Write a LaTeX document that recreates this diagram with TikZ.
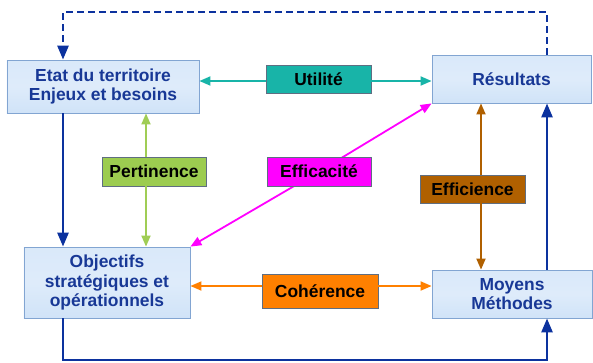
\documentclass[tikz,border=0pt]{standalone}
\usepackage{fontspec}
\setmainfont{Liberation Sans}
\usetikzlibrary{arrows.meta,calc}
\definecolor{boxfill}{RGB}{208,227,248}
\definecolor{boxdraw}{RGB}{130,165,210}
\definecolor{boxtext}{RGB}{24,56,150}
\definecolor{navy}{RGB}{12,50,158}
\definecolor{tealc}{RGB}{24,180,168}
\definecolor{greenc}{RGB}{160,205,85}
\definecolor{greenfill}{RGB}{156,204,80}
\definecolor{magc}{RGB}{255,0,255}
\definecolor{brownc}{RGB}{176,96,0}
\definecolor{orangec}{RGB}{255,128,0}
\definecolor{lblborder}{RGB}{95,110,130}
\tikzset{
  mainbox/.style={draw=boxdraw, line width=0.8bp, top color=boxfill!80!white, bottom color=boxfill, middle color=boxfill!70!white, text=boxtext, font=\fontsize{17.5}{19.5}\selectfont\bfseries, align=center, inner sep=0pt},
  lbl/.style={draw=lblborder, line width=0.7bp, text=black, font=\fontsize{17.5}{19.5}\selectfont\bfseries, align=center, inner sep=0pt},
  bluearr/.style={draw=navy, line width=2.6bp, -{Triangle[length=14bp,width=11bp]}},
  halfarr/.style={line width=1.8bp, -{Triangle[length=11bp,width=9bp]}}
}
\begin{document}
\begin{tikzpicture}[x=1bp,y=-1bp]
\useasboundingbox (0,0) rectangle (593,362);
% main boxes
\node[mainbox, minimum width=192bp, minimum height=53bp] (etat) at (103,86.5) {Etat du territoire\\Enjeux et besoins};
\node[mainbox, minimum width=159bp, minimum height=48bp] (res) at (511.5,79) {Résultats};
\node[mainbox, minimum width=166bp, minimum height=71bp] (obj) at (107,282.5) {Objectifs\\stratégiques et\\opérationnels};
\node[mainbox, minimum width=160bp, minimum height=48bp] (moy) at (512,294) {Moyens\\Méthodes};
% coordinates
\coordinate (xl) at (63,0);
\coordinate (xr) at (547,0);
\coordinate (ytop) at (0,12);
\coordinate (ybot) at (0,360);
% magenta connector (behind label)
\coordinate (effc) at (319,171.5);
\draw[halfarr, color=magc] (effc) -- (res.south west);
\draw[halfarr, color=magc] (effc) -- (obj.north east);
% labels
\node[lbl, fill=tealc, minimum width=105bp, minimum height=28bp] (util) at (318.5,79) {Utilité};
\node[lbl, fill=greenfill, minimum width=104bp, minimum height=29bp] (pert) at (154,171.5) {Pertinence};
\node[lbl, fill=magc, minimum width=104bp, minimum height=29bp] (effa) at (effc) {Efficacité};
\node[lbl, fill=brownc, minimum width=105bp, minimum height=28bp] (effi) at (472.5,189) {Efficience};
\node[lbl, fill=orangec, minimum width=116bp, minimum height=34bp] (coh) at (320,291) {Cohérence};
% colored connectors
\draw[halfarr, color=tealc] ([yshift=-2bp]util.west) -- ([yshift=-2bp]util.west -| etat.east);
\draw[halfarr, color=tealc] ([yshift=-2bp]util.east) -- ([yshift=-2bp]util.east -| res.west);
\draw[halfarr, color=greenc] ([xshift=-8bp]pert.north) -- ([xshift=-8bp]pert.north |- etat.south);
\draw[halfarr, color=greenc] ([xshift=-8bp]pert.south) -- ([xshift=-8bp]pert.south |- obj.north);
\draw[halfarr, color=brownc] ([xshift=8.5bp]effi.north) -- ([xshift=8.5bp]effi.north |- res.south);
\draw[halfarr, color=brownc] ([xshift=8.5bp]effi.south) -- ([xshift=8.5bp]effi.south |- moy.north);
\draw[halfarr, color=orangec] ([yshift=5bp]coh.west) -- ([yshift=5bp]coh.west -| obj.east);
\draw[halfarr, color=orangec] ([yshift=5bp]coh.east) -- ([yshift=5bp]coh.east -| moy.west);
% blue connectors
\draw[bluearr] (etat.south -| xl) -- (obj.north -| xl);
\draw[bluearr] (obj.south -| xl) -- (xl |- ybot) -- (xr |- ybot) -- (moy.south -| xr);
\draw[bluearr] (moy.north -| xr) -- (res.south -| xr);
\draw[bluearr, dash pattern=on 7bp off 4bp] (res.north -| xr) -- (xr |- ytop) -- (xl |- ytop) -- (etat.north -| xl);
\end{tikzpicture}
\end{document}
